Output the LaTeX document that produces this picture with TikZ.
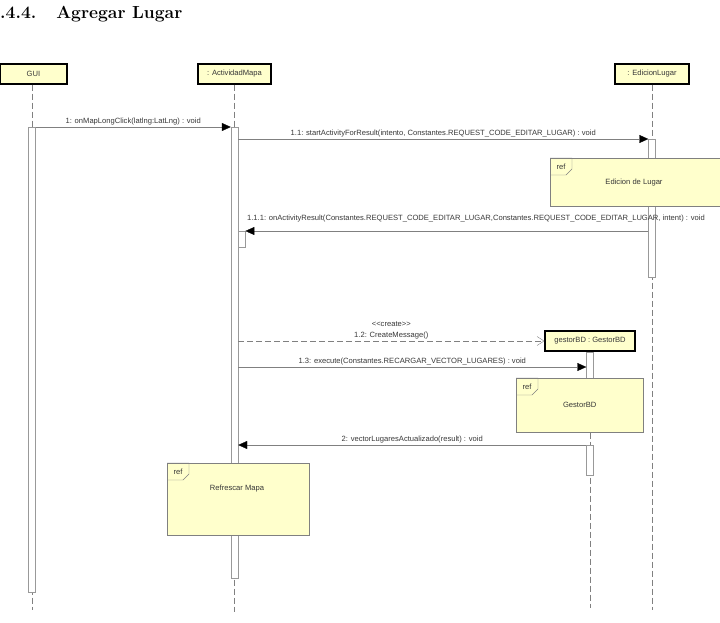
\documentclass[tikz,border=0pt]{standalone}
\usepackage{fontspec}
\newfontfamily\umlfont{Liberation Sans}
\usetikzlibrary{arrows.meta}
\definecolor{umlyellow}{RGB}{255,255,204}
\definecolor{umlline}{RGB}{128,128,128}
\definecolor{umltext}{RGB}{55,55,55}
\tikzset{
  head/.style={draw=black, line width=1.2pt, fill=umlyellow, minimum height=20pt,
    inner sep=0pt, font=\umlfont\fontsize{7.6}{9}\selectfont, text=umltext},
  lifeline/.style={draw=umlline, dash pattern=on 6pt off 3pt},
  bar/.style={draw=umlline!80, fill=white, minimum width=7pt, inner sep=0pt, anchor=north},
  msg/.style={draw=umlline, -{Triangle[length=9pt,width=8pt,color=black]}},
  create/.style={draw=umlline, dash pattern=on 6pt off 3pt, -{Straight Barb[length=7pt,width=9pt]}},
  lbl/.style={font=\umlfont\fontsize{7.6}{9}\selectfont, text=umltext, inner sep=1.5pt},
  refbody/.style={draw=umlline, fill=umlyellow, anchor=north west, inner sep=0pt},
  reftab/.style={draw=umlline}}
\newcommand{\stereo}[1]{<\kern0pt<#1>\kern0pt>}

\begin{document}
\begin{tikzpicture}[x=1pt, y=-1pt]
  \useasboundingbox (0,0) rectangle (720,623);
  \node[anchor=base west, inner sep=0pt, font=\fontsize{17.5}{20}\selectfont\bfseries] (title)
    at (0,19) {.4.4.\hspace{20pt}Agregar Lugar};

  % objects
  \node[head, minimum width=67pt] (gui)     at (33.5,74)  {GUI};
  \node[head, minimum width=73pt] (mapa)    at (234.5,74) {: ActividadMapa};
  \node[head, minimum width=74pt] (edicion) at (652,74)   {: EdicionLugar};

  % lifelines
  \coordinate (guiEnd)     at (32,610);
  \coordinate (mapaEnd)    at (234.5,612);
  \coordinate (edicionEnd) at (652,610);
  \coordinate (gestorEnd)  at (590,608);
  \draw[lifeline] (guiEnd |- gui.south) -- (guiEnd);
  \draw[lifeline] (mapa.south) -- (mapaEnd);
  \draw[lifeline] (edicion.south) -- (edicionEnd);

  % created object
  \node[head, minimum width=90pt] (gestor) at (590,341) {gestorBD : GestorBD};
  \draw[lifeline] (gestor.south) -- (gestorEnd);

  % activations
  \node[bar, minimum height=465pt] (guiBar)  at (32,127)    {};
  \node[bar, minimum height=451pt] (mapaBar) at (234.5,127) {};
  \node[bar, minimum height=16pt, anchor=north west] (retBar) at (238,231) {};
  \node[bar, minimum height=138pt] (edBar)   at (652,139)   {};
  \node[bar, minimum height=27pt]  (gesBar)  at (gestor.south) {};
  \node[bar, minimum height=30pt]  (gesBar2) at (590,445)   {};
  \coordinate (execY) at (0,367);

  % messages
  \path
    (guiBar.north east) edge[msg] node[lbl, above] {1: onMapLongClick(latlng:LatLng) : void} (mapaBar.north west)
    (mapaBar.east |- edBar.north) edge[msg] node[lbl, above]
      {1.1: startActivityForResult(intento, Constantes.REQUEST\_CODE\_EDITAR\_LUGAR) : void} (edBar.north west)
    (edBar.west |- retBar.north) edge[msg] node[lbl, at end, anchor=south west, yshift=7pt]
      {1.1.1: onActivityResult(Constantes.REQUEST\_CODE\_EDITAR\_LUGAR,Constantes.REQUEST\_CODE\_EDITAR\_LUGAR, intent) : void} (retBar.north east)
    (mapaBar.east |- execY) edge[msg] node[lbl, above]
      {1.3: execute(Constantes.RECARGAR\_VECTOR\_LUGARES) : void} (gesBar.west |- execY)
    (gesBar2.north west) edge[msg] node[lbl, above] {2: vectorLugaresActualizado(result) : void} (mapaBar.east |- gesBar2.north);
  \draw[create] (mapaBar.east |- gestor.west) -- node[lbl, above, align=center,
      font=\umlfont\fontsize{7.6}{11}\selectfont] {\stereo{create}\\1.2: CreateMessage()} (gestor.west);

  % interaction uses
  \node[refbody, minimum width=171pt, minimum height=48pt] (refEdicion) at (550,158) {};
  \node[lbl] (refEdicionTxt) at (634,183) {Edicion de Lugar};
  \draw[reftab] (refEdicion.north west) -- ++(22,0) -- ++(0,11) -- ++(-6,6) -- ++(-16,0);
  \node[lbl] (refEdicionTag) at ([shift={(11,9)}]refEdicion.north west) {ref};

  \node[refbody, minimum width=127pt, minimum height=54pt] (refGestor) at (516,378) {};
  \node[lbl] (refGestorTxt) at (refGestor.center) {GestorBD};
  \draw[reftab] (refGestor.north west) -- ++(22,0) -- ++(0,11) -- ++(-6,6) -- ++(-16,0);
  \node[lbl] (refGestorTag) at ([shift={(11,9)}]refGestor.north west) {ref};

  \node[refbody, minimum width=142pt, minimum height=72pt] (refMapa) at (167,463) {};
  \node[lbl] (refMapaTxt) at (237,489) {Refrescar Mapa};
  \draw[reftab] (refMapa.north west) -- ++(22,0) -- ++(0,11) -- ++(-6,6) -- ++(-16,0);
  \node[lbl] (refMapaTag) at ([shift={(11,9)}]refMapa.north west) {ref};
\end{tikzpicture}
\end{document}
